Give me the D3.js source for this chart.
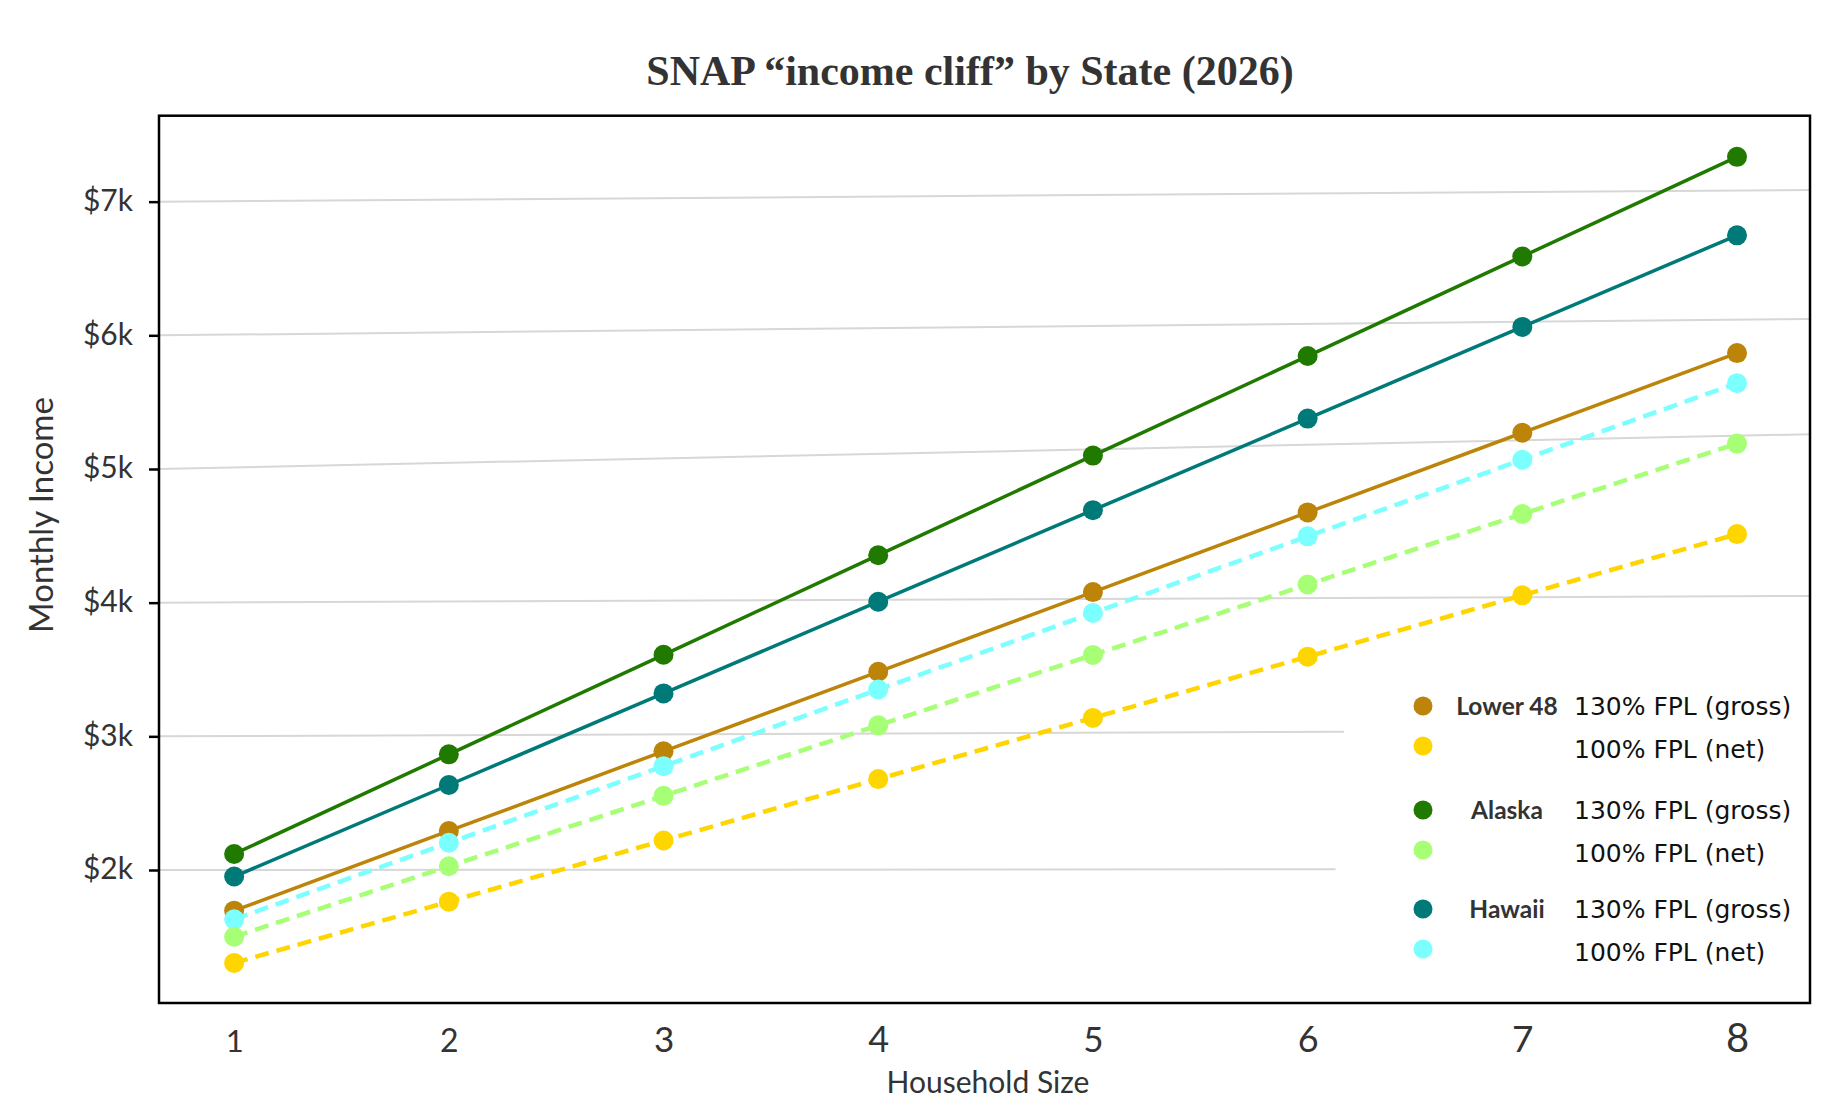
<!DOCTYPE html>
<html>
<head>
<meta charset="utf-8">
<script src="https://cdn.jsdelivr.net/npm/d3@7"></script>
<style>
  body { margin: 0; background: #fff; }
  svg { display: block; }
</style>
</head>
<body>
<svg id="chart" width="1839" height="1120"></svg>
<script>
// household sizes on the x axis
const householdSizes = [1, 2, 3, 4, 5, 6, 7, 8];

// monthly income limits, FY2026
const lower48Gross = [1696, 2292, 2888, 3483, 4079, 4675, 5271, 5867];
const lower48Net   = [1305, 1763, 2221, 2680, 3138, 3596, 4055, 4513];
const alaskaGross  = [2120, 2865, 3610, 4355, 5100, 5845, 6590, 7335];
const alaskaNet    = [1631, 2204, 2777, 3350, 3923, 4496, 5069, 5642];
const hawaiiGross  = [1951, 2636, 3321, 4007, 4692, 5377, 6063, 6748];
const hawaiiNet    = [1501, 2028, 2555, 3082, 3609, 4136, 4663, 5190];

// y ticks / gridlines (gridlines in the source are slightly skewed)
const gridValues    = [2000, 3000, 4000, 5000, 6000, 7000];
const gridEndValues = [2005, 3035, 4050, 5260, 6122, 7087];
const gridEndSizes  = [6.13, 6.17, 8.34, 8.34, 8.34, 8.34];

// legend
const legendStates = ["Lower 48", "Alaska", "Hawaii"];
const legendRows   = ["130% FPL (gross)", "100% FPL (net)"];

const col = {
  l48Gross: "#bc850a", l48Net: "#ffd500",
  akGross: "#217a00", akNet: "#a6ff75",
  hiGross: "#007a78", hiNet: "#7bffff"
};

// note: in the source the two dashed net lines for Alaska / Hawaii carry each other's colour
const series = [
  {values: lower48Gross, color: col.l48Gross, dashed: false},
  {values: lower48Net,   color: col.l48Net,   dashed: true},
  {values: alaskaGross,  color: col.akGross,  dashed: false},
  {values: alaskaNet,    color: col.hiNet,    dashed: true},
  {values: hawaiiGross,  color: col.hiGross,  dashed: false},
  {values: hawaiiNet,    color: col.akNet,    dashed: true}
];
const legendColors = [[col.l48Gross, col.l48Net], [col.akGross, col.akNet], [col.hiGross, col.hiNet]];

const xLabelSizes = [31, 32, 35, 36, 35, 36, 37, 40];

const svg = d3.select("#chart");

const plot = {left: 159, right: 1810, top: 115.7, bottom: 1003};

const x = d3.scaleLinear().domain([0.65, 8.34]).range([plot.left, plot.right]);
const y = d3.scaleLinear().domain([1005, 7643]).range([plot.bottom, plot.top]);

// gridlines
svg.append("g")
  .selectAll("line")
  .data(gridValues)
  .enter().append("line")
  .attr("x1", x(0.65))
  .attr("y1", d => y(d))
  .attr("x2", (d, i) => x(gridEndSizes[i]))
  .attr("y2", (d, i) => y(gridEndValues[i]))
  .attr("stroke", "#d7d7d7")
  .attr("stroke-width", 2);

// y axis
const yAxis = svg.append("g")
  .attr("transform", `translate(${plot.left},0)`)
  .call(d3.axisLeft(y)
    .tickValues(gridValues)
    .tickSize(10)
    .tickPadding(16)
    .tickFormat(d => "$" + d / 1000 + "k"));
yAxis.select(".domain").remove();
yAxis.selectAll(".tick line").attr("stroke", "#000").attr("stroke-width", 2.5);
yAxis.selectAll(".tick text")
  .attr("fill", "#333")
  .attr("font-family", "Lato")
  .attr("font-size", 30)
  .attr("dy", "0.3em");

// x axis
const xAxis = svg.append("g")
  .attr("transform", `translate(0,${plot.bottom})`)
  .call(d3.axisBottom(x).tickValues(householdSizes).tickSize(0).tickPadding(0));
xAxis.select(".domain").remove();
xAxis.selectAll(".tick text")
  .attr("y", 49)
  .attr("dy", 0)
  .attr("fill", "#333")
  .attr("font-family", "Lato")
  .attr("font-size", (d, i) => xLabelSizes[i]);

// frame
svg.append("rect")
  .attr("x", plot.left)
  .attr("y", plot.top)
  .attr("width", plot.right - plot.left)
  .attr("height", plot.bottom - plot.top)
  .attr("fill", "none")
  .attr("stroke", "#000")
  .attr("stroke-width", 2.5);

// lines + points
const line = d3.line()
  .x((d, i) => x(householdSizes[i]))
  .y(d => y(d));

series.forEach(s => {
  const g = svg.append("g");
  g.append("path")
    .attr("d", line(s.values))
    .attr("fill", "none")
    .attr("stroke", s.color)
    .attr("stroke-width", s.dashed ? 4.5 : 3.5)
    .attr("stroke-dasharray", s.dashed ? "14,8" : null);
  g.selectAll("circle")
    .data(s.values)
    .enter().append("circle")
    .attr("cx", (d, i) => x(householdSizes[i]))
    .attr("cy", d => y(d))
    .attr("r", 10)
    .attr("fill", s.color);
});

// legend
const legendTop = [706, 810, 909];
const legend = svg.append("g");
legendStates.forEach((name, i) => {
  const base = legendTop[i];
  legend.append("text")
    .attr("x", 1507)
    .attr("y", base + 9)
    .attr("text-anchor", "middle")
    .attr("font-family", "Lato")
    .attr("font-weight", "bold")
    .attr("font-size", 24.5)
    .attr("fill", "#333")
    .text(name);
  legendRows.forEach((row, j) => {
    const dotY = base + j * 40;
    legend.append("circle")
      .attr("cx", 1423)
      .attr("cy", dotY)
      .attr("r", 9.5)
      .attr("fill", legendColors[i][j]);
    legend.append("text")
      .attr("x", 1574)
      .attr("y", dotY + (j === 0 ? 9 : 12))
      .attr("font-family", "DejaVu Sans")
      .attr("font-size", 25)
      .attr("fill", "#111")
      .text(row);
  });
});

// axis titles
svg.append("text")
  .attr("x", 988)
  .attr("y", 1093)
  .attr("text-anchor", "middle")
  .attr("font-family", "Lato")
  .attr("font-size", 30)
  .attr("fill", "#333")
  .text("Household Size");

svg.append("text")
  .attr("transform", "translate(53,515) rotate(-90)")
  .attr("text-anchor", "middle")
  .attr("font-family", "Lato")
  .attr("font-size", 33)
  .attr("fill", "#333")
  .text("Monthly Income");

// title
svg.append("text")
  .attr("x", 970)
  .attr("y", 85)
  .attr("text-anchor", "middle")
  .attr("font-family", "Liberation Serif")
  .attr("font-weight", "bold")
  .attr("font-size", 42)
  .attr("fill", "#333")
  .text("SNAP “income cliff” by State (2026)");
</script>
</body>
</html>
